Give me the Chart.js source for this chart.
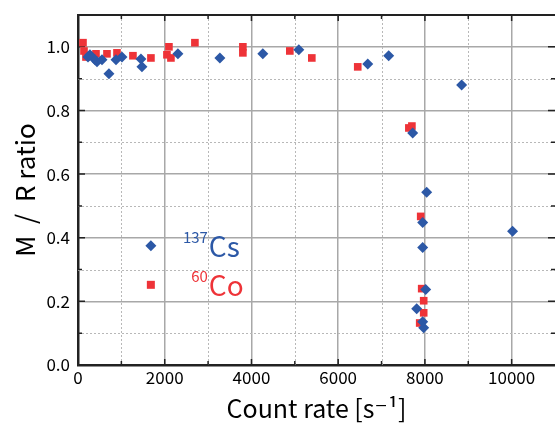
<!DOCTYPE html>
<html>
<head>
<meta charset="utf-8">
<script src="https://cdn.jsdelivr.net/npm/chart.js@4"></script>
<style>
  html, body { margin: 0; padding: 0; background: #fff; }
  #wrap { width: 555px; height: 423px; }
</style>
</head>
<body>
<div id="wrap"><canvas id="chart"></canvas></div>
<script>
// Cs-137 points: count rate [s^-1] and M/R ratio
const csRate  = [230, 276, 392, 438, 553, 714, 876, 1014, 1452, 1475, 2304, 3272, 4262, 5092, 6682, 7165, 8847,
                 7718, 8041, 7949, 10022, 7949, 8018, 7811, 7949, 7972];
const csRatio = [0.968, 0.975, 0.959, 0.953, 0.959, 0.915, 0.959, 0.968, 0.962, 0.937, 0.978, 0.965, 0.978, 0.991, 0.946, 0.972, 0.880,
                 0.729, 0.543, 0.448, 0.420, 0.369, 0.237, 0.177, 0.136, 0.117];

// Co-60 points
const coRate  = [115, 138, 184, 300, 415, 668, 899, 1267, 1682, 2051, 2097, 2143, 2696, 3802, 3802, 4885, 5392, 6451,
                 7630, 7700, 7903, 7926, 7972, 7972, 7880];
const coRatio = [1.013, 0.987, 0.968, 0.972, 0.978, 0.978, 0.981, 0.972, 0.965, 0.975, 1.0, 0.965, 1.013, 1.0, 0.981, 0.987, 0.965, 0.937,
                 0.745, 0.751, 0.467, 0.240, 0.202, 0.164, 0.132];

// legend marker spots (data units) and labels
const legendX = 1680;
const legendY = [0.375, 0.252];
const legendMass = ['137', '60'];
const legendName = ['Cs', 'Co'];

const xTicks = [0, 2000, 4000, 6000, 8000, 10000];
const yTicks = [0.0, 0.2, 0.4, 0.6, 0.8, 1.0];

const BLUE = '#2c58a6';
const RED = '#ee3338';
const FONT = "'Noto Sans CJK JP', 'DejaVu Sans', sans-serif";

const toPts = (xs, ys) => xs.map((x, i) => ({x: x, y: ys[i]}));

const isMajor = (v, step) => Math.abs(v / step - Math.round(v / step)) < 1e-6;

// dotted minor grid, inward ticks, top border, and the in-plot legend
const extras = {
  id: 'extras',
  beforeDatasetsDraw(chart) {
    const {ctx, chartArea: a, scales: {x, y}} = chart;
    ctx.save();
    ctx.strokeStyle = '#b8b8b8';
    ctx.lineWidth = 1;
    ctx.setLineDash([2, 2]);
    for (let v = 1000; v < 11000; v += 2000) {
      const px = Math.round(x.getPixelForValue(v)) + 0.5;
      ctx.beginPath(); ctx.moveTo(px, a.top); ctx.lineTo(px, a.bottom); ctx.stroke();
    }
    for (let v = 0.1; v < 1.1; v += 0.2) {
      const py = Math.round(y.getPixelForValue(v)) + 0.5;
      ctx.beginPath(); ctx.moveTo(a.left, py); ctx.lineTo(a.right, py); ctx.stroke();
    }
    ctx.setLineDash([]);
    ctx.strokeStyle = '#222';
    ctx.lineWidth = 1.5;
    for (let v = 1000; v < 11000; v += 1000) {
      const px = x.getPixelForValue(v);
      const len = isMajor(v, 2000) ? 6 : 4;
      ctx.beginPath();
      ctx.moveTo(px, a.bottom); ctx.lineTo(px, a.bottom - len);
      ctx.moveTo(px, a.top); ctx.lineTo(px, a.top + len);
      ctx.stroke();
    }
    for (let i = 1; i < 11; i++) {
      const v = i / 10;
      const py = y.getPixelForValue(v);
      const len = i % 2 === 0 ? 7 : 4;
      ctx.beginPath();
      ctx.moveTo(a.left, py); ctx.lineTo(a.left + len, py);
      ctx.moveTo(a.right, py); ctx.lineTo(a.right - len, py);
      ctx.stroke();
    }
    ctx.lineWidth = 2;
    ctx.beginPath(); ctx.moveTo(a.left, a.top); ctx.lineTo(a.right, a.top); ctx.stroke();
    ctx.restore();
  },
  afterDatasetsDraw(chart) {
    const {ctx, scales: {x, y}} = chart;
    const colors = [BLUE, RED];
    ctx.save();
    legendY.forEach((ly, i) => {
      const px = x.getPixelForValue(legendX);
      const py = y.getPixelForValue(ly);
      ctx.fillStyle = colors[i];
      ctx.beginPath();
      if (i === 0) {
        ctx.moveTo(px, py - 5.5); ctx.lineTo(px + 5.5, py); ctx.lineTo(px, py + 5.5); ctx.lineTo(px - 5.5, py);
      } else {
        ctx.rect(px - 4, py - 4, 8, 8);
      }
      ctx.fill();
      const base = py + 11;
      ctx.textBaseline = 'alphabetic';
      ctx.textAlign = 'left';
      ctx.font = '28px ' + FONT;
      ctx.fillText(legendName[i], px + 58, base);
      ctx.textAlign = 'right';
      ctx.font = '15px ' + FONT;
      ctx.fillText(legendMass[i], px + 57, base - 14);
    });
    ctx.restore();
  }
};

new Chart(document.getElementById('chart'), {
  type: 'scatter',
  data: {
    datasets: [
      {
        label: '137Cs',
        data: toPts(csRate, csRatio),
        pointStyle: 'rectRot',
        pointRadius: 5.5,
        pointHoverRadius: 5.5,
        backgroundColor: BLUE,
        borderColor: BLUE,
        borderWidth: 0
      },
      {
        label: '60Co',
        data: toPts(coRate, coRatio),
        pointStyle: 'rect',
        pointRadius: 5.4,
        pointHoverRadius: 5.4,
        backgroundColor: RED,
        borderColor: RED,
        borderWidth: 0
      }
    ]
  },
  options: {
    responsive: true,
    maintainAspectRatio: false,
    animation: false,
    layout: { autoPadding: false, padding: { top: 15, right: 0, left: 0, bottom: 0 } },
    plugins: {
      legend: { display: false },
      tooltip: { enabled: false }
    },
    scales: {
      x: {
        type: 'linear',
        min: 0,
        max: 11000,
        afterBuildTicks: (s) => { s.ticks = []; for (let v = 0; v <= 11000; v += 1000) s.ticks.push({value: v}); },
        afterFit: (s) => { s.height = 58; s.paddingLeft = 0; s.paddingRight = 0; },
        ticks: {
          color: '#000',
          font: { size: 17, family: FONT },
          padding: 2,
          maxRotation: 0,
          autoSkip: false,
          callback: (v) => xTicks.includes(v) ? String(v) : ''
        },
        grid: {
          drawTicks: false,
          color: (c) => (c.tick && isMajor(c.tick.value, 2000) && c.tick.value > 0) ? '#a8a8a8' : 'rgba(0,0,0,0)',
          lineWidth: 1.5
        },
        border: { display: true, color: '#222', width: 2.5 },
        title: {
          display: true,
          text: 'Count rate [s\u207B\u00B9]',
          color: '#000',
          font: { size: 25, family: FONT },
          padding: { top: 0, bottom: 0 }
        }
      },
      y: {
        type: 'linear',
        min: 0,
        max: 1.1,
        afterBuildTicks: (s) => { s.ticks = []; for (let i = 0; i <= 11; i++) s.ticks.push({value: i / 10}); },
        afterFit: (s) => { s.width = 78; s.paddingTop = 0; s.paddingBottom = 0; },
        ticks: {
          color: '#000',
          font: { size: 17, family: FONT },
          padding: 8,
          autoSkip: false,
          callback: (v) => yTicks.some(t => Math.abs(t - v) < 1e-6) ? v.toFixed(1) : ''
        },
        grid: {
          drawTicks: false,
          color: (c) => (c.tick && Math.round(c.tick.value * 10) % 2 === 0 && c.tick.value > 0) ? '#a8a8a8' : 'rgba(0,0,0,0)',
          lineWidth: 1.5
        },
        border: { display: true, color: '#222', width: 2.5 },
        title: {
          display: true,
          text: 'M  /  R ratio',
          color: '#000',
          font: { size: 26, family: FONT },
          padding: { top: 10, bottom: 0 }
        }
      }
    }
  },
  plugins: [extras]
});
</script>
</body>
</html>
